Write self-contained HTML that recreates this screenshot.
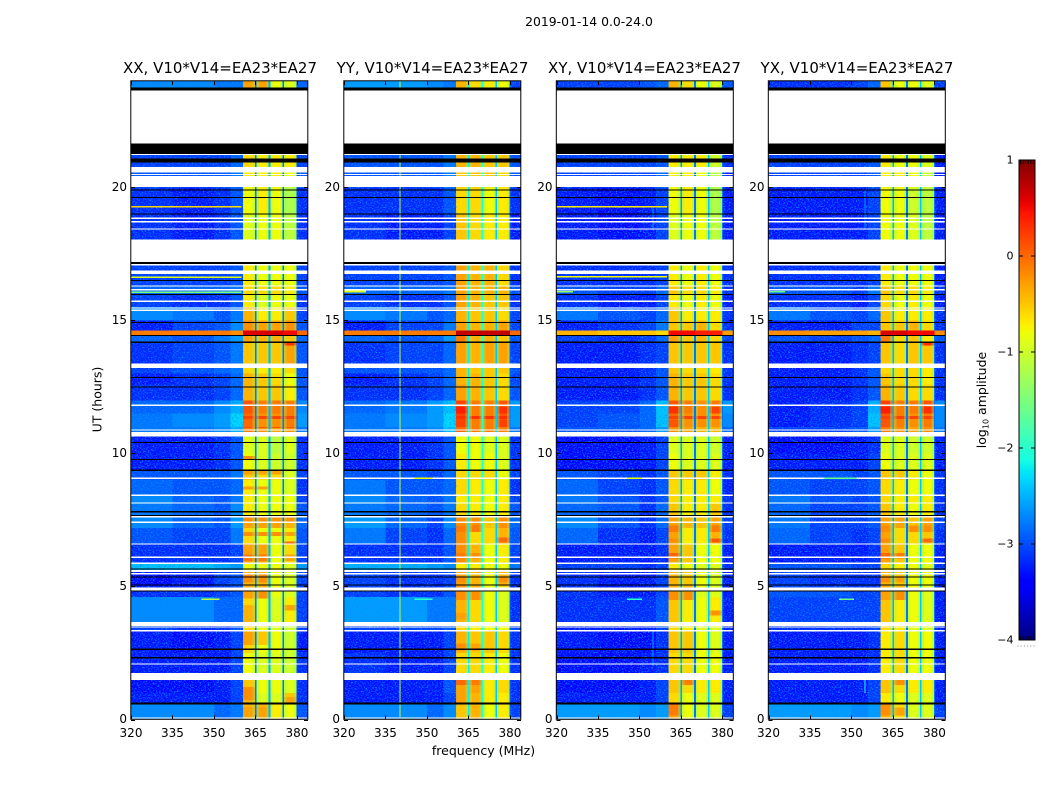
<!DOCTYPE html>
<html lang="en">
<head>
<meta charset="utf-8">
<title>2019-01-14 0.0-24.0</title>
<style>
  html, body { margin: 0; padding: 0; background: #fff; }
  body { width: 1050px; height: 800px; overflow: hidden; }
  svg { display: block; font-family: "DejaVu Sans", "Liberation Sans", sans-serif; fill: #000; }
  .tick-label { font-size: 12px; }
  .title { font-size: 15px; text-anchor: middle; }
  .axis-label { font-size: 12.5px; }
</style>
</head>
<body>
<svg id="figure" width="1050" height="800" viewBox="0 0 1050 800" xmlns="http://www.w3.org/2000/svg">
  <defs>
    <filter id="speckle" x="0" y="0" width="100%" height="100%" color-interpolation-filters="sRGB">
      <feTurbulence type="fractalNoise" baseFrequency="0.62 0.8" numOctaves="2" seed="7"/>
      <feColorMatrix type="matrix" values="0 0 0 0 0.05  0 0 0 0 0.55  0 0 0 0 1  3.4 0 0 0 -1.65"/>
    </filter>
    <linearGradient id="jet-gradient" x1="0" y1="1" x2="0" y2="0"></linearGradient>
  </defs>

  <text x="589" y="26" font-size="12.4" text-anchor="middle">2019-01-14 0.0-24.0</text>

  <g id="panel-xx">
    <text class="title" x="220" y="73">XX, V10*V14=EA23*EA27</text>
  </g>
  <g id="panel-yy">
    <text class="title" x="432.5" y="73">YY, V10*V14=EA23*EA27</text>
  </g>
  <g id="panel-xy">
    <text class="title" x="644.5" y="73">XY, V10*V14=EA23*EA27</text>
  </g>
  <g id="panel-yx">
    <text class="title" x="857" y="73">YX, V10*V14=EA23*EA27</text>
  </g>

  <text class="axis-label" transform="translate(101.5,399.5) rotate(-90)" text-anchor="middle">UT (hours)</text>
  <text class="axis-label" x="483.5" y="755" text-anchor="middle">frequency (MHz)</text>

  <g id="colorbar">
    <text class="axis-label" transform="translate(986,400) rotate(-90)" text-anchor="middle">log<tspan font-size="8" dy="2.5">10</tspan><tspan dy="-2.5"> amplitude</tspan></text>
  </g>
</svg>

<script>
// Hours at the boundaries of each time block (bottom to top of each panel).
const rowEdges = [0,0.6,1.0,1.5,1.74,2.5,3.3,3.67,4.6,5.0,5.6,5.9,6.6,7.2,7.6,8.1,8.4,9.0,9.4,10.0,10.63,10.81,11.0,11.5,12.0,12.6,13.0,13.22,13.39,14.2,14.45,14.63,15.0,15.5,16.0,16.3,17.13,18.05,19.0,20.0,20.6,21.26,23.64,24];

// Frequency (MHz) boundaries of the nine value columns in each row.
const channelEdges = [[320,335],[335,350],[350,356],[356,360.5],[360.5,365],[365,370],[370,375],[375,380],[380,384]];

// Narrow receiver band gaps (MHz).
const bandGaps = [[364.8,365.4],[369.8,370.4],[374.8,375.4],[379.8,380.2]];

// log10 amplitude x10, per time block: four background columns, four bands, outer column.
const xxValues = [
[-27,-27,-29,-28,-4,-4,-7,-8,-30],[-33,-33,-33,-31,-4,-9,-9,-5,-32],[-34,-34,-33,-31,-5,-8,-8,-9,-32],null,
[-33,-33,-33,-31,-8,-9,-9,-10,-32],[-33,-34,-33,-31,-6,-8,-8,-10,-33],[-31,-32,-32,-30,-6,-8,-9,-10,-31],[-27,-27,-29,-29,-6,-8,-9,-7,-31],
[-32,-32,-31,-30,-4,-4,-8,-9,-31],[-34,-33,-31,-30,-4,-4,-8,-9,-31],[-24,-24,-25,-26,-8,-8,-8,-9,-26],[-32,-32,-32,-31,-3,-3,-8,-6,-31],
[-30,-31,-31,-28,-6,-8,-8,-7,-30],[-27,-29,-30,-26,-3,-3,-3,-4,-29],[-28,-29,-30,-27,-7,-8,-8,-8,-30],[-27,-29,-30,-28,-7,-8,-8,-8,-31],
[-29,-30,-30,-29,-7,-8,-8,-9,-32],[-30,-30,-30,-28,-5,-6,-6,-9,-31],[-33,-33,-32,-30,-8,-9,-10,-10,-32],[-33,-33,-32,-30,-9,-9,-11,-9,-32],null,
[-28,-28,-27,-25,-1,-2,-3,-2,-28],[-28,-27,-26,-23,0,-2,-2,-1,-26],[-29,-29,-27,-25,1,-1,-1,-1,-27],[-32,-32,-31,-29,-4,-5,-5,-7,-30],
[-33,-32,-31,-29,-4,-5,-6,-8,-30],[-31,-30,-29,-28,-6,-7,-7,-6,-30],null,[-32,-31,-30,-28,-5,-5,-5,-3,-30],[-29,-30,-28,-26,-3,-4,-4,-5,-29],
[-1,-1,-1,-2,6,6,6,5,0],[-33,-31,-30,-27,-2,-3,-3,-2,-30],[-27,-28,-30,-28,-4,-7,-7,-5,-31],[-31,-32,-32,-30,-7,-9,-8,-8,-32],
[-29,-29,-29,-28,-6,-6,-6,-7,-30],[-31,-31,-31,-30,-7,-8,-8,-8,-31],null,[-32,-33,-32,-30,-9,-8,-8,-11,-32],[-32,-33,-32,-30,-8,-7,-8,-12,-32],
[-30,-30,-30,-28,-7,-7,-7,-8,-30],[-31,-31,-31,-29,-6,-7,-7,-7,-31],null,[-27,-27,-28,-28,-3,-3,-8,-9,-29]
];
const yyValues = [
[-27,-27,-29,-27,-5,-4,-8,-7,-31],[-33,-33,-33,-31,-3,-4,-7,-7,-32],[-33,-33,-33,-30,-3,-3,-7,-6,-32],null,
[-32,-33,-33,-31,-6,-6,-7,-8,-32],[-33,-33,-33,-31,-4,-5,-5,-6,-32],[-31,-31,-31,-30,-6,-7,-8,-8,-31],[-26,-26,-28,-28,-4,-6,-8,-9,-32],
[-31,-32,-32,-30,-2,-4,-8,-9,-32],[-31,-32,-32,-31,-3,-4,-8,-4,-32],[-25,-25,-26,-27,-7,-7,-8,-8,-28],[-32,-32,-32,-30,-2,-4,-8,-7,-31],
[-28,-31,-32,-29,-2,-6,-6,-4,-30],[-26,-29,-31,-27,-2,-2,-5,-2,-29],[-28,-29,-30,-28,-6,-7,-8,-7,-30],[-27,-29,-30,-28,-7,-7,-8,-7,-31],
[-28,-30,-30,-29,-6,-7,-8,-7,-32],[-30,-30,-31,-29,-6,-6,-6,-8,-31],[-33,-33,-32,-30,-7,-8,-8,-9,-32],[-33,-33,-32,-30,-8,-8,-9,-9,-32],null,
[-28,-28,-27,-24,0,-1,-1,-1,-28],[-28,-27,-26,-23,2,-1,-1,1,-26],[-29,-28,-26,-24,2,-1,-1,1,-26],[-32,-32,-31,-29,-3,-4,-5,-6,-30],
[-33,-32,-31,-29,-4,-4,-5,-6,-31],[-30,-30,-30,-29,-4,-5,-5,-5,-30],null,[-32,-31,-31,-29,-3,-4,-3,-3,-31],[-29,-30,-29,-26,-1,-4,-4,-5,-30],
[-1,-1,-1,-1,7,7,7,7,0],[-33,-31,-31,-28,-3,-4,-4,-3,-31],[-27,-28,-30,-29,-4,-5,-5,-6,-31],[-31,-32,-32,-30,-3,-4,-5,-5,-32],
[-29,-29,-29,-28,-3,-4,-4,-4,-30],[-31,-31,-31,-30,-3,-4,-4,-6,-32],null,[-32,-33,-33,-31,-5,-6,-7,-7,-33],[-32,-32,-32,-30,-6,-6,-8,-7,-32],
[-30,-30,-30,-28,-5,-5,-5,-6,-30],[-30,-30,-30,-28,-4,-4,-5,-5,-30],null,[-26,-26,-27,-28,-4,-6,-7,-8,-31]
];
const xyValues = [
[-26,-26,-27,-26,-3,-8,-9,-9,-31],[-33,-33,-33,-31,-6,-8,-9,-9,-33],[-34,-34,-33,-31,-5,-6,-7,-7,-33],null,
[-34,-34,-33,-32,-6,-6,-8,-8,-33],[-33,-34,-34,-32,-5,-5,-8,-9,-33],[-33,-33,-33,-31,-6,-7,-9,-9,-33],[-32,-32,-32,-30,-5,-7,-8,-7,-33],
[-32,-33,-33,-31,-4,-4,-9,-9,-33],[-32,-33,-33,-31,-4,-5,-8,-9,-33],[-31,-31,-32,-31,-7,-8,-9,-9,-32],[-33,-33,-33,-32,-3,-5,-8,-8,-33],
[-29,-32,-33,-31,-3,-7,-7,-4,-32],[-27,-30,-32,-29,-3,-4,-5,-3,-31],[-29,-30,-32,-29,-5,-7,-7,-5,-32],[-28,-30,-32,-30,-6,-7,-7,-7,-32],
[-29,-31,-32,-30,-6,-7,-7,-8,-33],[-30,-31,-32,-30,-5,-5,-5,-7,-32],[-34,-34,-33,-31,-8,-9,-9,-9,-33],[-34,-34,-33,-31,-9,-9,-9,-10,-33],null,
[-30,-30,-29,-26,-2,-3,-4,-4,-29],[-31,-30,-29,-24,0,-2,-2,-2,-27],[-31,-31,-29,-24,1,-1,-2,-1,-26],[-33,-33,-32,-30,-4,-5,-5,-6,-32],
[-33,-33,-32,-30,-4,-5,-5,-6,-32],[-33,-33,-32,-30,-5,-6,-6,-7,-32],null,[-33,-33,-32,-31,-5,-5,-5,-5,-32],[-31,-32,-31,-29,-3,-5,-4,-6,-31],
[-4,-5,-5,-6,5,5,4,4,-3],[-33,-32,-31,-28,-5,-5,-4,-6,-32],[-28,-30,-31,-29,-5,-7,-7,-7,-32],[-32,-33,-33,-31,-7,-8,-7,-8,-33],
[-30,-31,-31,-29,-5,-6,-6,-7,-32],[-32,-32,-32,-31,-7,-8,-7,-8,-32],null,[-33,-34,-33,-31,-9,-8,-8,-11,-33],[-33,-34,-33,-31,-8,-7,-8,-12,-33],
[-31,-31,-31,-29,-7,-7,-8,-11,-33],[-31,-31,-31,-30,-7,-7,-7,-10,-32],null,[-31,-31,-30,-29,-4,-6,-8,-9,-30]
];
const yxValues = [
[-26,-26,-27,-26,-4,-6,-9,-9,-31],[-33,-33,-33,-31,-7,-8,-9,-9,-33],[-33,-33,-33,-31,-5,-6,-7,-7,-33],null,
[-33,-33,-33,-32,-7,-6,-8,-8,-33],[-33,-33,-33,-32,-7,-6,-8,-8,-33],[-32,-32,-32,-31,-6,-7,-9,-9,-33],[-31,-31,-31,-31,-5,-7,-8,-9,-33],
[-30,-30,-31,-31,-4,-4,-8,-9,-33],[-31,-32,-32,-32,-4,-5,-8,-8,-33],[-30,-30,-31,-31,-6,-7,-8,-9,-32],[-33,-33,-33,-32,-3,-5,-8,-8,-33],
[-29,-31,-32,-31,-3,-6,-6,-5,-32],[-28,-31,-31,-30,-3,-3,-5,-3,-31],[-29,-31,-31,-30,-5,-7,-8,-7,-32],[-28,-30,-31,-30,-6,-7,-7,-7,-32],
[-30,-31,-31,-30,-6,-7,-8,-8,-32],[-30,-30,-31,-30,-5,-5,-7,-8,-32],[-33,-33,-33,-31,-8,-9,-9,-9,-33],[-34,-34,-33,-32,-9,-9,-10,-10,-33],null,
[-31,-31,-30,-26,-1,-2,-3,-2,-28],[-33,-32,-31,-24,1,-1,-2,-1,-27],[-33,-32,-31,-25,2,-1,-1,1,-27],[-33,-33,-32,-30,-4,-5,-6,-6,-32],
[-33,-33,-32,-30,-5,-6,-6,-7,-32],[-33,-33,-32,-30,-6,-6,-6,-7,-32],null,[-33,-33,-32,-31,-5,-6,-5,-5,-32],[-30,-31,-30,-29,-1,-6,-5,-7,-30],
[-2,-3,-3,-4,6,6,5,5,-2],[-33,-33,-31,-31,-5,-5,-4,-6,-32],[-28,-30,-31,-29,-5,-7,-7,-7,-32],[-32,-32,-33,-31,-6,-8,-7,-8,-33],
[-30,-30,-31,-28,-5,-6,-6,-7,-32],[-32,-32,-32,-31,-7,-8,-8,-8,-33],null,[-33,-33,-33,-31,-8,-8,-9,-11,-33],[-33,-33,-33,-31,-8,-8,-10,-11,-33],
[-31,-31,-31,-30,-7,-7,-8,-10,-33],[-31,-31,-31,-30,-7,-8,-8,-9,-33],null,[-32,-32,-31,-29,-5,-8,-8,-9,-31]
];

// Short bursts inside a band: [start hour, end hour, band index, value x10].
const xxBursts = [[0.1,0.47,0,-3],[0.1,0.47,1,-3],[0.73,1.22,0,-2],[0.6,0.85,3,-3],[2.8,3.3,0,-3],[2.8,3.3,1,-5],[3.67,4.3,0,-4],[4.1,4.3,3,-3],[4.55,4.8,0,-3],[4.55,4.8,1,-2],[5.15,5.45,0,-2],[5.15,5.45,1,-2],[5.95,6.2,0,-1],[5.95,6.2,1,-1],[5.95,6.2,3,-3],[6.6,6.7,3,0],[6.9,7.05,0,-2],[6.9,7.05,1,-2],[6.9,7.05,2,-2],[6.9,7.05,3,-3],[7.45,7.6,0,-2],[7.45,7.6,1,-2],[7.45,7.6,2,-2],[7.45,7.6,3,-2],[8.65,8.75,0,-3],[8.65,8.75,1,-3],[9.2,9.35,0,-3],[9.2,9.35,1,-3],[9.2,9.35,2,-3],[9.8,9.9,0,-2],[10.95,11.0,0,1],[10.95,11.0,1,1],[10.95,11.0,2,1],[10.95,11.0,3,1],[11.3,11.4,0,2],[11.3,11.4,1,2],[11.3,11.4,2,2],[11.3,11.4,3,2],[14.05,14.15,3,3]];
const yyBursts = [[0.75,1.1,0,-3],[1.3,1.5,0,0],[1.3,1.5,1,-1],[2.6,2.85,0,-2],[2.6,2.85,1,-3],[3.75,4.0,0,-3],[4.5,4.8,0,-2],[4.5,4.8,1,-2],[5.15,5.35,0,-2],[5.15,5.35,3,-2],[6.05,6.25,0,-1],[6.05,6.25,1,-2],[6.65,6.85,0,-2],[6.65,6.85,3,0],[7.05,7.3,0,-1],[7.05,7.3,1,-1],[11.0,11.25,0,2],[11.0,11.25,3,2],[11.3,11.4,0,3],[11.3,11.4,1,3],[11.3,11.4,2,3],[11.3,11.4,3,3],[11.5,11.75,0,4],[11.5,11.75,3,3]];
const xyBursts = [[0.15,0.57,0,-1],[1.3,1.5,1,-1],[3.9,4.1,3,-2],[4.5,4.8,0,-2],[4.5,4.8,1,-2],[6.05,6.25,0,0],[6.65,6.8,0,-2],[6.65,6.8,3,1],[7.05,7.3,0,-1],[7.05,7.3,3,-1],[11.0,11.25,0,1],[11.3,11.4,0,2],[11.3,11.4,1,2],[11.3,11.4,2,2],[11.3,11.4,3,2],[11.5,11.75,0,3],[11.5,11.75,3,2]];
const yxBursts = [[0.15,0.57,0,-2],[0.15,0.45,1,-3],[1.3,1.5,1,-2],[4.5,4.8,0,-3],[4.5,4.8,1,-2],[5.15,5.35,0,-2],[5.15,5.35,1,-3],[6.05,6.25,0,0],[6.05,6.25,1,-1],[6.65,6.8,0,-2],[6.65,6.8,3,0],[7.05,7.3,0,-2],[7.05,7.3,2,-2],[7.05,7.3,3,-2],[11.0,11.25,0,1],[11.3,11.4,0,2],[11.3,11.4,1,2],[11.3,11.4,2,2],[11.3,11.4,3,2],[11.5,11.75,0,4],[11.5,11.75,3,3],[14.05,14.15,3,3]];

// Amplitude (x10) of the narrow gap channels in each panel.
const xxGapLevels = [-28,-25,-28,-30];
const yyGapLevels = [-22,-20,-24,-28];
const xyGapLevels = [-26,-28,-24,-28];
const yxGapLevels = [-25,-28,-24,-28];

// Narrow interference lines: [start hour, end hour, start MHz, end MHz, value x10].
const xxInterference = [[19.25,19.31,320,360,-6],[16.6,16.65,320,360,-9],[16.03,16.08,320,360,-15],[4.5,4.55,345.5,352,-11]];
const yyInterference = [[16.05,16.12,320,328,-9],[9.04,9.09,345.5,352,-8],[4.5,4.55,345.5,352,-20]];
const xyInterference = [[19.25,19.31,320,360,-7],[16.62,16.67,320,360,-8],[16.05,16.1,320,326,-13],[9.04,9.09,345.5,351,-8],[4.5,4.55,345.5,351,-20]];
const yxInterference = [[16.05,16.11,320,326,-16],[4.5,4.55,345.5,351,-16],[9.04,9.09,340,352,-16]];

// Vertical interference channels: [MHz, start hour, end hour, value x10].
const xxChannels = [];
const yyChannels = [[340,0.1,24,-11]];
const xyChannels = [[354.7,2.0,3.3,-26],[354.7,18.4,19.2,-26]];
const yxChannels = [[354.7,1.0,1.5,-20],[354.7,18.4,19.9,-26]];

// Flagged (missing) hour ranges, drawn white.
const missingRanges = [[21.66,23.64],[21.22,21.26],[20.01,20.42],[20.47,20.51],[20.56,20.76],[18.81,18.86],[18.69,18.74],[18.41,18.46],[17.2,18.05],[17.07,17.12],[16.75,16.87],[16.27,16.32],[16.13,16.18],[15.7,15.75],[15.44,15.48],[15.36,15.41],[13.22,13.39],[11.79,11.84],[10.86,10.9],[10.63,10.81],[9.04,9.09],[8.4,8.45],[8.12,8.16],[7.6,7.65],[7.39,7.44],[6.57,6.62],[6.07,6.12],[5.85,5.9],[5.54,5.62],[5.45,5.5],[4.85,4.97],[3.52,3.67],[3.46,3.49],[3.3,3.37],[2.07,2.11],[1.48,1.74],[0.04,0.08]];

// Zero-valued hour ranges, drawn black.
const zeroRanges = [[23.64,23.76],[21.26,21.66],[20.93,21.08],[19.88,19.93],[19.6,19.64],[18.98,19.02],[17.13,17.2],[16.48,16.52],[15.96,16.0],[14.91,14.95],[14.42,14.46],[14.16,14.2],[12.84,12.88],[12.47,12.51],[10.4,10.44],[9.76,9.8],[9.35,9.39],[7.79,7.83],[7.65,7.69],[5.64,5.68],[5.33,5.37],[5.03,5.07],[4.81,4.85],[2.62,2.66],[2.3,2.34],[0.57,0.64]];

const xTickValues = [320,335,350,365,380];
const yTickValues = [0,5,10,15,20];
const colorTickValues = [-4,-3,-2,-1,0,1];
const panelKeys = ['xx','yy','xy','yx'];
const panelValues = [xxValues,yyValues,xyValues,yxValues];
const panelBursts = [xxBursts,yyBursts,xyBursts,yxBursts];
const panelGapLevels = [xxGapLevels,yyGapLevels,xyGapLevels,yxGapLevels];
const panelInterference = [xxInterference,yyInterference,xyInterference,yxInterference];
const panelChannels = [xxChannels,yyChannels,xyChannels,yxChannels];

const SVGNS = 'http://www.w3.org/2000/svg';
const panelLeft = [131,344,556.5,768.5];
const panelWidth = 177, plotTop = 81, plotBottom = 719.5;
const xDomain = [320,384], yDomain = [0,24];
const cbarRange = [-4,1];

function xScale(left, mhz) { return left + (mhz - xDomain[0]) / (xDomain[1] - xDomain[0]) * panelWidth; }
function yScale(hour) { return plotBottom - (hour - yDomain[0]) / (yDomain[1] - yDomain[0]) * (plotBottom - plotTop); }
function lerpStops(t, stops) {
  for (let i = 1; i < stops.length; i++) {
    if (t <= stops[i][0]) {
      const a = stops[i-1], b = stops[i];
      return a[1] + (b[1] - a[1]) * (t - a[0]) / (b[0] - a[0]);
    }
  }
  return stops[stops.length-1][1];
}
function jet(logAmp) {
  const t = Math.max(0, Math.min(1, (logAmp - cbarRange[0]) / (cbarRange[1] - cbarRange[0])));
  const r = lerpStops(t, [[0,0],[0.35,0],[0.66,1],[0.89,1],[1,0.5]]);
  const g = lerpStops(t, [[0,0],[0.125,0],[0.375,1],[0.64,1],[0.91,0],[1,0]]);
  const b = lerpStops(t, [[0,0.5],[0.11,1],[0.34,1],[0.65,0],[1,0]]);
  return 'rgb(' + Math.round(r*255) + ',' + Math.round(g*255) + ',' + Math.round(b*255) + ')';
}
function make(tag, attrs, parent) {
  const node = document.createElementNS(SVGNS, tag);
  for (const k in attrs) node.setAttribute(k, attrs[k]);
  parent.appendChild(node);
  return node;
}

panelKeys.forEach(function (key, p) {
  const host = document.getElementById('panel-' + key);
  const left = panelLeft[p];
  const values = panelValues[p];

  const heat = make('g', { 'shape-rendering': 'crispEdges' }, host);
  
  

  const lowerLayer = make('g', {}, heat);
  const brightLayer = document.createElementNS(SVGNS, 'g');

  values.forEach(function (row, r) {
    if (!row) return;
    const y0 = yScale(rowEdges[r + 1]), y1 = yScale(rowEdges[r]);
    const target = row[0] > -15 ? brightLayer : lowerLayer;
    row.forEach(function (v, c) {
      const x0 = xScale(left, channelEdges[c][0]), x1 = xScale(left, channelEdges[c][1]);
      const cell = make('rect', { x: x0, y: y0, width: x1 - x0, height: y1 - y0, fill: jet(v / 10) }, target);
      
      
    });
  });

  panelBursts[p].forEach(function (d) {
    const band = channelEdges[4 + d[2]];
    const burst = make('rect', { x: xScale(left, band[0]), y: yScale(d[1]), width: xScale(left, band[1]) - xScale(left, band[0]), height: yScale(d[0]) - yScale(d[1]), fill: jet(d[3] / 10) }, lowerLayer);
    
    
  });

  // Soft green shoulders at the edge of each band.
  bandGaps.forEach(function (gap, g) {
    [[gap[0] - 0.8, gap[0]], [gap[1], gap[1] + 0.8]].forEach(function (span, s) {
      if (g === 3 && s === 1) return;
      const shoulder = make('rect', { x: xScale(left, span[0]), y: plotTop, width: xScale(left, span[1]) - xScale(left, span[0]), height: plotBottom - plotTop, fill: jet(-1.5), opacity: 0.35 }, lowerLayer);
      
      
    });
    const gapRect = make('rect', { x: xScale(left, gap[0]), y: plotTop, width: xScale(left, gap[1]) - xScale(left, gap[0]), height: plotBottom - plotTop, fill: jet(panelGapLevels[p][g] / 10) }, lowerLayer);
    
    
  });

  // Speckle texture on the background channels only.
  [[320, 360.5], [380.2, 384]].forEach(function (span) {
    const tex = make('rect', { x: xScale(left, span[0]), y: plotTop, width: xScale(left, span[1]) - xScale(left, span[0]), height: plotBottom - plotTop, filter: 'url(#speckle)' }, heat);
    
    
  });
  heat.appendChild(brightLayer);

  panelChannels[p].forEach(function (ch) {
    const line = make('rect', { x: xScale(left, ch[0]), y: yScale(ch[2]), width: 1, height: yScale(ch[1]) - yScale(ch[2]), fill: jet(ch[3] / 10) }, heat);
    
    
  });
  missingRanges.forEach(function (d) {
    const gap = make('rect', { x: left, y: yScale(d[1]), width: panelWidth, height: Math.max(1, yScale(d[0]) - yScale(d[1])), fill: '#fff' }, heat);
    
    
  });
  zeroRanges.forEach(function (d) {
    const gap = make('rect', { x: left, y: yScale(d[1]), width: panelWidth, height: Math.max(1, yScale(d[0]) - yScale(d[1])), fill: '#000' }, heat);
    
    
  });
  panelInterference[p].forEach(function (d) {
    const line = make('rect', { x: xScale(left, d[2]), y: yScale(d[1]), width: xScale(left, d[3]) - xScale(left, d[2]), height: yScale(d[0]) - yScale(d[1]), fill: jet(d[4] / 10) }, heat);
    
    
  });

  const frame = make('rect', { x: left - 0.2, y: plotTop - 0.2, width: panelWidth, height: plotBottom - plotTop, fill: 'none', stroke: '#000', 'stroke-width': 1 }, host);
  
  

  xTickValues.forEach(function (v) {
    const x = Math.round(xScale(left, v)) + 0.5;
    const t1 = make('line', { x1: x, x2: x, y1: plotBottom, y2: plotBottom - 4, stroke: '#000', 'stroke-width': 1 }, host);
    
    
    const t2 = make('line', { x1: x, x2: x, y1: plotTop, y2: plotTop + 4, stroke: '#000', 'stroke-width': 1 }, host);
    
    
    const label = make('text', { x: xScale(left, v), y: 737, 'text-anchor': 'middle', 'class': 'tick-label' }, host);
    label.textContent = String(v);
    
    
  });
  yTickValues.forEach(function (v) {
    const y = Math.round(yScale(v)) + 0.5;
    const t1 = make('line', { x1: left, x2: left + 4, y1: y, y2: y, stroke: '#000', 'stroke-width': 1 }, host);
    
    
    const t2 = make('line', { x1: left + panelWidth, x2: left + panelWidth - 4, y1: y, y2: y, stroke: '#000', 'stroke-width': 1 }, host);
    
    
    const label = make('text', { x: left - 4, y: yScale(v) + 3.5, 'text-anchor': 'end', 'class': 'tick-label' }, host);
    label.textContent = String(v);
    
    
  });
});

// Colorbar
(function () {
  const host = document.getElementById('colorbar');
  const grad = document.getElementById('jet-gradient');
  const barX = 1019, barW = 16, barTop = 160, barBottom = 640;
  function cbY(v) { return barBottom - (v - cbarRange[0]) / (cbarRange[1] - cbarRange[0]) * (barBottom - barTop); }
  for (let i = 0; i <= 64; i++) {
    const stop = make('stop', { offset: (i / 64 * 100) + '%', 'stop-color': jet(cbarRange[0] + i / 64 * (cbarRange[1] - cbarRange[0])) }, grad);
    
    
  }
  const bar = make('rect', { x: barX, y: barTop, width: barW, height: barBottom - barTop, fill: 'url(#jet-gradient)', stroke: '#000', 'stroke-width': 1 }, host);
  
  

  colorTickValues.forEach(function (v) {
    const y = cbY(v);
    const t1 = make('line', { x1: barX, x2: barX + 4, y1: y, y2: y, stroke: '#000', 'stroke-width': 1 }, host);
    
    
    const t2 = make('line', { x1: barX + barW, x2: barX + barW - 4, y1: y, y2: y, stroke: '#000', 'stroke-width': 1 }, host);
    
    
    const label = make('text', { x: barX - 5.5, y: y + 3.5, 'text-anchor': 'end', 'font-size': '11' }, host);
    label.textContent = v < 0 ? '\u2212' + Math.abs(v) : String(v);
    
    
  });
  for (let i = 0; i < 6; i++) {
    const x = barX + 1.5 + i * 2.6;
    const top = make('line', { x1: x, x2: x, y1: barTop, y2: barTop + 4, stroke: '#000', 'stroke-width': 0.8 }, host);
    
    
    const bot = make('line', { x1: x, x2: x, y1: barBottom, y2: barBottom - 4, stroke: '#000', 'stroke-width': 0.8 }, host);
    
    
    const dot = make('rect', { x: barX - 1.5 + i * 3.2, y: 645.5, width: 1, height: 1, fill: '#888' }, host);
    
    
  }
})();
</script>
</body>
</html>
